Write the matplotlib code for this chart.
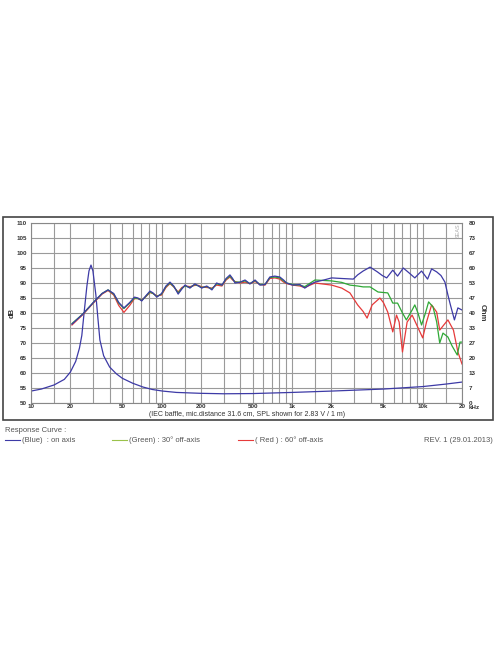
import matplotlib
matplotlib.use("Agg")
import matplotlib.pyplot as plt
from matplotlib.patches import Rectangle

plt.rcParams['font.family'] = ['Liberation Sans', 'DejaVu Sans']

# on-axis SPL (blue)
blue_f = [20.6, 25, 30, 35, 38.9, 43, 47, 51.5, 57, 62, 66, 70.5, 76, 81.5, 86, 92, 100, 108, 116,
          124, 134, 143, 151, 165, 180, 192, 203, 222, 243, 264, 290, 312, 334, 350, 365, 400, 436,
          475, 520, 567, 620, 675, 737, 805, 860, 907, 1010, 1144, 1250, 1370, 1495, 1750, 2007,
          2400, 2940, 3175, 3500, 3955, 4500, 4900, 5300, 5900, 6420, 7100, 7800, 8700, 9800,
          10900, 11700, 12800, 13800, 14800, 15600, 16300, 17500, 18600, 20000]
blue_db = [76.3, 79.7, 83.5, 86.5, 87.7, 86.5, 83.5, 81.7, 83.5, 85.3, 85.0, 84.0, 85.8, 87.3, 86.7,
           85.3, 86.5, 89.0, 90.3, 89.0, 86.3, 88.0, 89.3, 88.3, 89.7, 89.0, 88.3, 89.0, 87.7, 90.0,
           89.3, 91.5, 92.7, 91.5, 90.0, 90.3, 91.0, 89.7, 91.0, 89.3, 89.5, 92.0, 92.3, 92.0, 91.0,
           90.0, 89.3, 89.5, 88.3, 89.5, 90.3, 91.0, 91.7, 91.5, 91.3, 92.7, 94.0, 95.3, 93.7, 92.5,
           91.7, 94.3, 92.3, 95.0, 93.5, 91.7, 94.0, 91.3, 94.7, 93.7, 92.5, 90.3, 86.0, 82.7, 77.7,
           81.7, 81.0]

# 30 deg off-axis (green)
green_f = [20.6, 25, 30, 35, 38.9, 43, 47, 51.5, 57, 62, 66, 70.5, 76, 81.5, 86, 92, 100, 108, 116,
           124, 134, 143, 151, 165, 180, 192, 203, 222, 243, 264, 290, 312, 334, 350, 365, 400, 436,
           475, 520, 567, 620, 675, 737, 805, 860, 907, 1010, 1144, 1250, 1495, 2007, 2400, 2770,
           3175, 3500, 3955, 4550, 5400, 5650, 5900, 6420, 7000, 7500, 8300, 8700, 9200, 9800,
           10500, 11100, 12000, 12800, 13500, 14300, 15600, 16800, 18400, 19300, 20000]
green_db = [76.5, 79.7, 83.5, 86.5, 87.7, 86.3, 83.3, 81.5, 83.3, 85.0, 84.8, 84.2, 85.6, 87.0, 86.5,
            85.5, 86.3, 88.8, 90.0, 88.8, 86.7, 88.2, 89.0, 88.5, 89.5, 89.0, 88.5, 88.8, 88.0, 89.7,
            89.3, 91.3, 92.3, 91.3, 90.3, 90.3, 90.7, 89.8, 90.8, 89.5, 89.5, 91.8, 92.0, 91.7, 90.7,
            90.0, 89.5, 89.3, 88.8, 91.0, 90.7, 90.2, 89.3, 89.0, 88.7, 88.7, 87.0, 86.7, 85.0, 83.3,
            83.3, 80.0, 77.7, 81.0, 82.7, 80.0, 76.0, 80.0, 83.7, 82.0, 77.0, 70.0, 73.3, 72.0, 69.0,
            66.0, 70.3, 70.3]

# 60 deg off-axis (red)
red_f = [20.6, 25, 30, 35, 38.9, 43, 47, 51.5, 57, 62, 66, 70.5, 76, 81.5, 86, 92, 100, 108, 116,
         124, 134, 143, 151, 165, 180, 192, 203, 222, 243, 264, 290, 312, 334, 350, 365, 400, 436,
         475, 520, 567, 620, 675, 737, 805, 860, 907, 1010, 1144, 1250, 1495, 2007, 2400, 2770,
         3175, 3500, 3750, 4100, 4700, 5000, 5400, 5900, 6300, 6600, 7000, 7600, 8300, 9000,
         10000, 10700, 11700, 12800, 13500, 14500, 15600, 17200, 18600, 20000]
red_db = [76.0, 79.5, 83.3, 86.3, 87.5, 86.0, 82.5, 80.2, 82.5, 84.8, 84.8, 84.3, 85.5, 86.8, 86.5,
          85.7, 86.0, 88.5, 89.8, 88.7, 87.0, 88.5, 89.0, 88.8, 89.2, 89.2, 88.7, 88.5, 88.3, 89.3,
          89.0, 91.0, 92.0, 91.0, 90.5, 90.0, 90.3, 89.8, 90.5, 89.5, 89.3, 91.5, 91.7, 91.3, 90.3,
          89.8, 89.3, 89.0, 88.5, 90.0, 89.3, 88.3, 86.7, 82.7, 80.5, 78.3, 82.7, 85.0, 83.5, 80.3,
          73.7, 79.3, 77.0, 67.0, 77.0, 79.3, 76.0, 71.7, 77.0, 82.7, 80.3, 74.3, 76.0, 77.7, 74.3,
          67.0, 63.0]

# impedance (blue, right axis)
imp_f = [10, 12, 15, 18, 20, 22, 23.5, 24.5, 25.5, 26.8, 27.8, 28.8, 29.8, 31.4, 32.5, 33.7, 36, 40,
         45, 50, 60, 72, 85, 102, 130, 200, 300, 500, 1000, 2000, 5000, 10000, 15000, 20000]
imp_ohm = [5.3, 6.2, 8.0, 10.5, 13.7, 18.5, 24.4, 30.0, 40.0, 52.0, 58.7, 61.3, 58.7, 48.0, 38.0, 28.0,
           21.0, 16.0, 13.0, 11.0, 8.8, 7.1, 6.0, 5.3, 4.7, 4.3, 4.1, 4.2, 4.7, 5.3, 6.2, 7.3, 8.4, 9.3]

db_ticks = [50, 55, 60, 65, 70, 75, 80, 85, 90, 95, 100, 105, 110]
ohm_labels = ['0', '7', '13', '20', '27', '33', '40', '47', '53', '60', '67', '73', '80']
x_ticks = [10, 20, 50, 100, 200, 500, 1000, 2000, 5000, 10000, 20000]
x_labels = ['10', '20', '50', '100', '200', '500', '1k', '2k', '5k', '10k', '20']
grid_f = [10, 15, 20, 30, 40, 50, 60, 70, 80, 90, 100, 150, 200, 300, 400, 500, 600, 700, 800, 900,
          1000, 1500, 2000, 3000, 4000, 5000, 6000, 7000, 8000, 9000, 10000, 15000, 20000]

BLUE = '#3d3aa6'
GREEN = '#2fa836'
RED = '#e63a3a'
TXT = '#333333'

fig = plt.figure(figsize=(4.96, 6.64), dpi=100)
fig.patches.append(Rectangle((3 / 496, 1 - 420 / 664), 490 / 496, 203 / 664, transform=fig.transFigure,
                             fill=False, edgecolor='#444444', lw=1.2))

ax = fig.add_axes([31 / 496, 1 - 403 / 664, 431 / 496, 180 / 664])
ax.set_xscale('log')
ax.set_xlim(10, 20000)
ax.set_ylim(50, 110)
for g in grid_f:
    ax.axvline(g, color='#9a9a9a', lw=0.8, zorder=0)
for d in db_ticks:
    ax.axhline(d, color='#9a9a9a', lw=0.8, zorder=0)
for s in ax.spines.values():
    s.set_color('#888888')
    s.set_linewidth(0.8)

ax.plot(imp_f, [50 + v * 60 / 80 for v in imp_ohm], color=BLUE, lw=0.9)
ax.plot(red_f, red_db, color=RED, lw=0.9)
ax.plot(green_f, green_db, color=GREEN, lw=0.9)
ax.plot(blue_f, blue_db, color=BLUE, lw=0.9)

ax.set_yticks(db_ticks)
ax.set_yticklabels([str(d) for d in db_ticks], fontsize=4.5, fontweight='bold', color=TXT)
ax.set_xticks(x_ticks)
ax.set_xticklabels(x_labels, fontsize=4.5, fontweight='bold', color=TXT)
ax.minorticks_off()
ax.tick_params(axis='y', length=0, pad=3)
ax.tick_params(axis='x', length=0, pad=1)

ax2 = ax.twinx()
ax2.set_ylim(0, 80)
ax2.set_yticks([i * 80 / 12 for i in range(13)])
ax2.set_yticklabels(ohm_labels, fontsize=4.5, fontweight='bold', color=TXT)
ax2.tick_params(length=0, pad=5)
for s in ax2.spines.values():
    s.set_visible(False)

fig.text(12 / 496, 1 - 313 / 664, 'dB', rotation=90, fontsize=5.5, fontweight='bold', color=TXT,
         ha='center', va='center')
fig.text(482 / 496, 1 - 313 / 664, 'Ohm', rotation=270, fontsize=5.5, fontweight='bold', color=TXT,
         ha='center', va='center')
fig.text(469 / 496, 1 - 407.5 / 664, 'kHz', fontsize=4.5, fontweight='bold', color=TXT,
         ha='left', va='center')
fig.text(458 / 496, 1 - 231 / 664, 'SEAS', rotation=90, fontsize=4, color='#aaaaaa',
         ha='center', va='center')
fig.text(247 / 496, 1 - 415 / 664, '(IEC baffle, mic.distance 31.6 cm, SPL shown for 2.83 V / 1 m)',
         fontsize=5, color=TXT, ha='center', va='center')

fig.text(5 / 496, 1 - 430 / 664, 'Response Curve :', fontsize=5.5, color='#555555', va='center')
legend = [(5, BLUE, '(Blue)  : on axis'), (112, '#9ac24a', '(Green) : 30° off-axis'),
          (238, RED, '( Red ) : 60° off-axis')]
for x0, c, label in legend:
    fig.add_artist(plt.Line2D([x0 / 496, (x0 + 15) / 496], [1 - 440 / 664] * 2, color=c, lw=0.8,
                              transform=fig.transFigure))
    fig.text((x0 + 17) / 496, 1 - 440 / 664, label, fontsize=5.5, color='#555555', va='center')
fig.text(493 / 496, 1 - 440 / 664, 'REV. 1 (29.01.2013)', fontsize=5.5, color='#555555',
         ha='right', va='center')

fig.savefig('out.png', dpi=100)
